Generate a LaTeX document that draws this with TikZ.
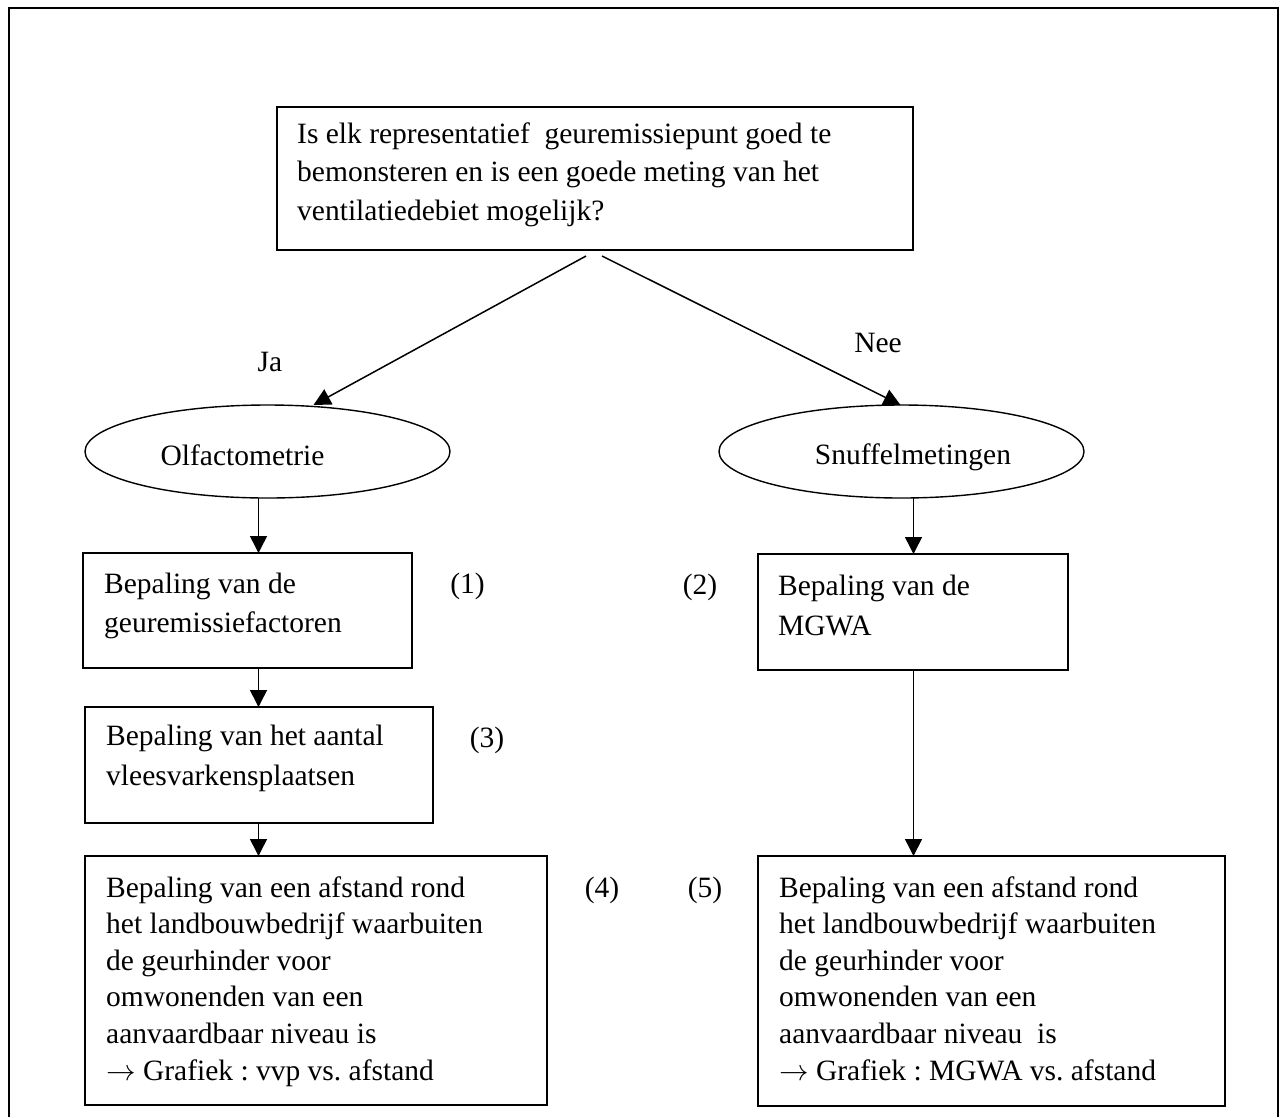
\RequirePackage{fix-cm}
\documentclass[tikz,border=0pt]{standalone}
\usepackage{fontspec}
\setmainfont{Liberation Serif}
\usetikzlibrary{arrows.meta,shapes.geometric,calc}
\frenchspacing
\newcommand{\mytextblock}[2]{\parbox[t]{600pt}{\raggedright\fontsize{29.5}{#1}\selectfont #2}}
\begin{document}
\begin{tikzpicture}[x=1pt,y=-1pt,
  box/.style={draw,line width=1.7pt,rectangle,inner sep=0pt,outer sep=0pt,anchor=north west},
  oval/.style={draw,line width=1.4pt,ellipse,inner sep=0pt,outer sep=0pt,minimum width=365pt,minimum height=93pt},
  txt/.style={anchor=base west,inner sep=0pt,font=\fontsize{29.5}{36}\selectfont},
  lbl/.style={anchor=base,inner sep=0pt,font=\fontsize{29.5}{36}\selectfont},
  arr/.style={line width=1.5pt,-{Triangle[length=17pt,width=17pt]}},
  frame/.style={line width=1.7pt}
]
\useasboundingbox (0,0) rectangle (1284,1117);
\draw[frame] (9,1117) -- (9,8) -- (1278,8) -- (1278,1117);

% boxes
\node[box,minimum width=636pt,minimum height=143pt] (q) at (277,107) {};
\node[box,minimum width=329pt,minimum height=115pt] (b1) at (83,553) {};
\node[box,minimum width=348pt,minimum height=116pt] (b3) at (85,707) {};
\node[box,minimum width=462pt,minimum height=249pt] (b4) at (85,856) {};
\node[box,minimum width=310pt,minimum height=116pt] (b2) at (758,554) {};
\node[box,minimum width=467pt,minimum height=250pt] (b5) at (758,856) {};

% ellipses
\node[oval] (olf) at (267.5,451.5) {};
\node[oval] (snuf) at (901.5,451.5) {};

% texts
\node[txt] (tq) at (297,143) {\mytextblock{38.7pt}{Is elk representatief\ \ geuremissiepunt goed te\\bemonsteren en is een goede meting van het\\ventilatiedebiet mogelijk?}};
\node[txt] (t1) at (104,593) {\mytextblock{39pt}{Bepaling van de\\geuremissiefactoren}};
\node[txt] (t3) at (106,745) {\mytextblock{40pt}{Bepaling van het aantal\\vleesvarkensplaatsen}};
\node[txt] (t4) at (106,897) {\mytextblock{36.6pt}{Bepaling van een afstand rond\\het landbouwbedrijf waarbuiten\\de geurhinder voor\\omwonenden van een\\aanvaardbaar niveau is\\$\rightarrow$ Grafiek : vvp vs.\ afstand}};
\node[txt] (t2) at (778,595) {\mytextblock{40pt}{Bepaling van de\\MGWA}};
\node[txt] (t5) at (779,897) {\mytextblock{36.6pt}{Bepaling van een afstand rond\\het landbouwbedrijf waarbuiten\\de geurhinder voor\\omwonenden van een\\aanvaardbaar niveau\ \ is\\$\rightarrow$ Grafiek : MGWA vs.\ afstand}};
\node[lbl] (tolf) at (242.5,465) {Olfactometrie};
\node[lbl] (tsnuf) at (913,464) {Snuffelmetingen};

% labels
\node[lbl] (ja) at (270,371) {Ja};
\node[lbl] (nee) at (878,352) {Nee};
\node[lbl] (n1) at (467.5,593) {(1)};
\node[lbl] (n3) at (487,747) {(3)};
\node[lbl] (n2) at (700,594) {(2)};
\node[lbl] (n4) at (602,897) {(4)};
\node[lbl] (n5) at (705,897) {(5)};

% connectors
\coordinate (cL) at (258.5,0);
\coordinate (cR) at (913.5,0);
\draw[arr] ([xshift=-9pt,yshift=-6pt]q.south) -- ([xshift=46pt]olf.north);
\draw[arr] ([xshift=7pt,yshift=-6pt]q.south) -- ([xshift=-1pt]snuf.north);
\draw[arr] (olf.south -| cL) -- (b1.north -| cL);
\draw[arr] (b1.south -| cL) -- (b3.north -| cL);
\draw[arr] (b3.south -| cL) -- (b4.north -| cL);
\draw[arr] (snuf.south -| cR) -- (b2.north -| cR);
\draw[arr] (b2.south -| cR) -- (b5.north -| cR);
\end{tikzpicture}
\end{document}
